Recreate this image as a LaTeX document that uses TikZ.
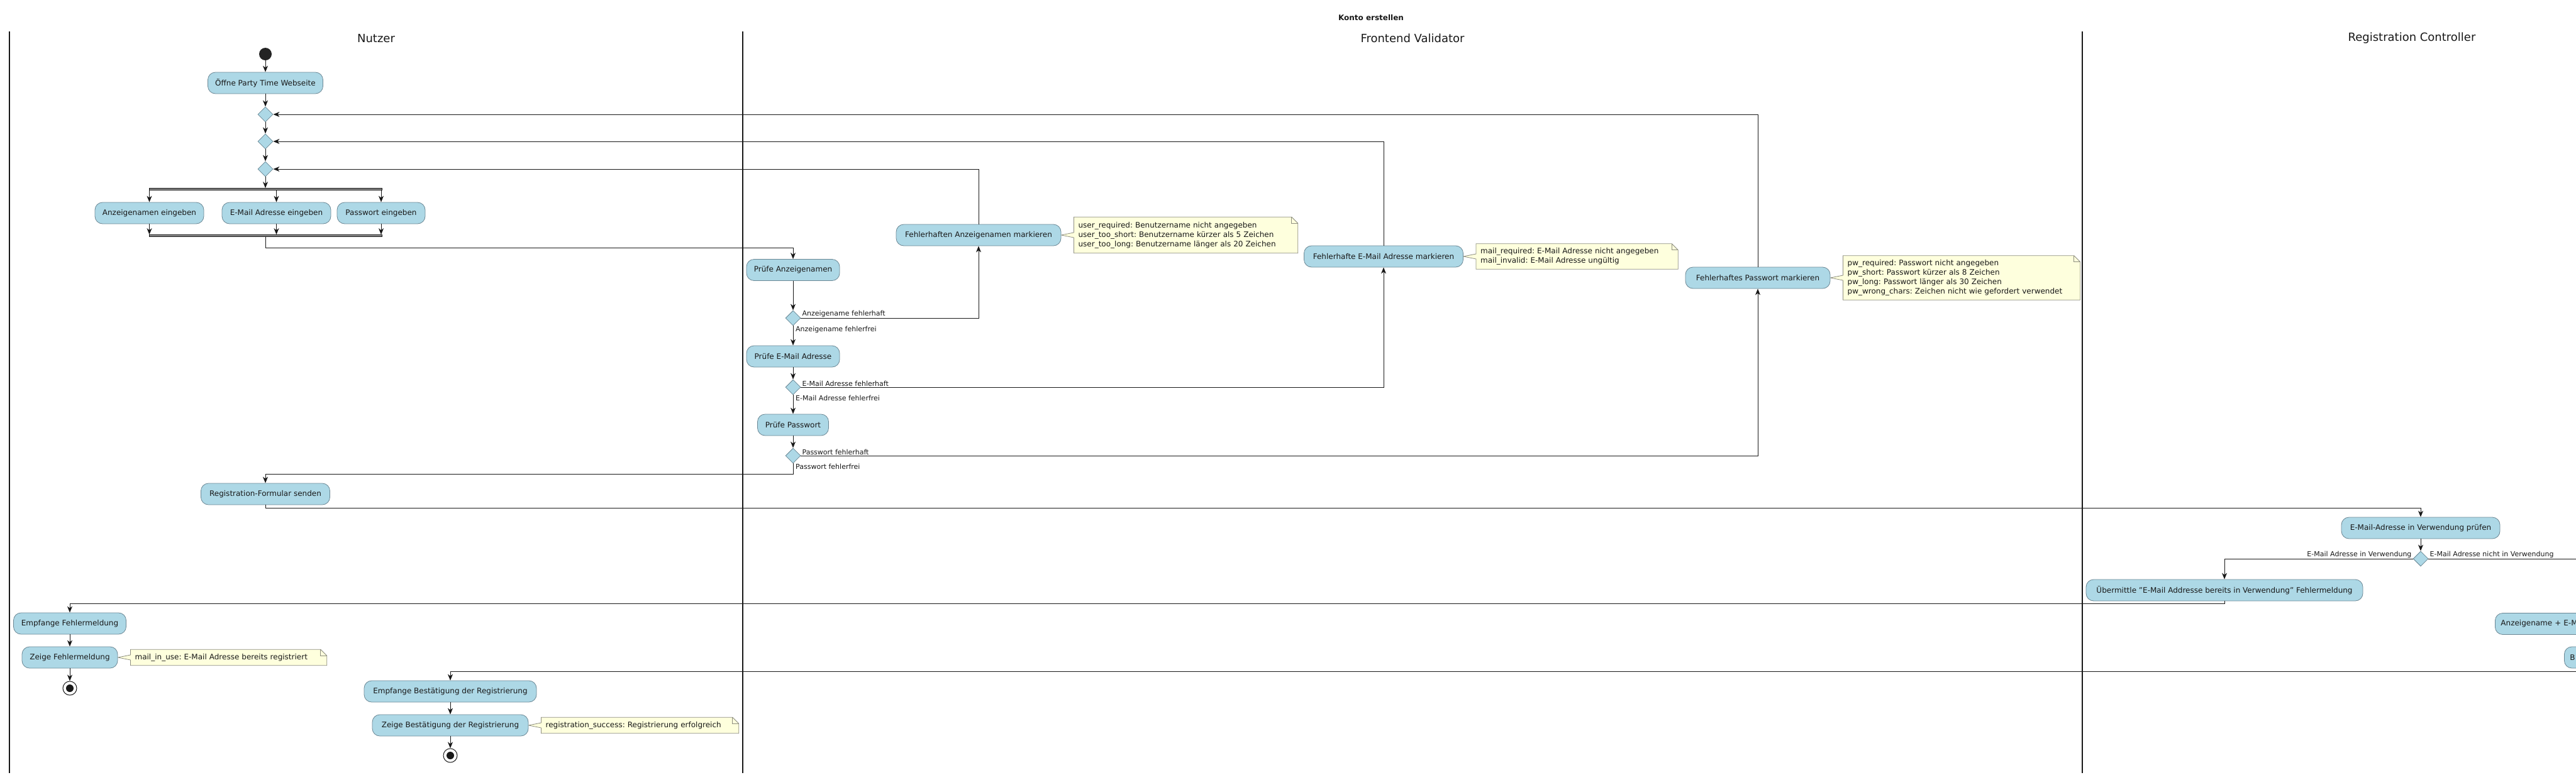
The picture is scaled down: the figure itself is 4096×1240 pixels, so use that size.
\documentclass[tikz,border=0pt]{standalone}
\usepackage{fontspec}
\setmainfont{DejaVu Sans}
\frenchspacing
\usetikzlibrary{shapes.geometric,arrows.meta,calc}
\definecolor{actfill}{HTML}{ADD8E6}
\definecolor{actborder}{HTML}{6B8794}
\definecolor{notefill}{HTML}{FEFFDD}
\definecolor{noteborder}{HTML}{8E8E80}
\definecolor{ink}{HTML}{181818}
\pgfdeclarelayer{bg}
\pgfsetlayers{bg,main}
\newcommand\notepath[1]{%
  \begin{pgfonlayer}{bg}
  \filldraw[noteline] (#1.north west) -- ([xshift=-10pt]#1.north east) -- ([yshift=-10pt]#1.north east)
    -- (#1.south east) -- (#1.south west) -- ([yshift=-4pt]#1.west) -- ([xshift=-20pt]#1.west)
    -- ([yshift=4pt]#1.west) -- cycle;
  \draw[noteline, fill=none] ([xshift=-10pt]#1.north east) |- ([yshift=-10pt]#1.north east);
  \end{pgfonlayer}}
\begin{document}
\begin{tikzpicture}[x=1pt,y=-1pt,
  act/.style={rectangle, rounded corners=12pt, draw=actborder, fill=actfill, line width=0.8pt,
    minimum height=34pt, inner xsep=9pt, inner ysep=0pt, font=\fontsize{12}{14}\selectfont, text=ink},
  dec/.style={diamond, draw=actborder, fill=actfill, line width=0.8pt, minimum width=24pt,
    minimum height=24pt, inner sep=0pt},
  flow/.style={draw=ink, line width=1pt, -{Stealth[length=10pt,width=8pt,inset=3pt]}},
  plain/.style={draw=ink, line width=1pt},
  lane/.style={draw=ink, line width=1.5pt},
  lbl/.style={font=\fontsize{11}{13}\selectfont, inner sep=1pt, text=ink},
  notebox/.style={align=left, inner xsep=7pt, inner ysep=4pt, font=\fontsize{12}{15}\selectfont,
    anchor=west, text=ink},
  noteline/.style={draw=noteborder, fill=notefill, line width=0.8pt},
  bar/.style={rectangle, fill=black!45, draw=ink, line width=0.6pt, minimum height=3pt,
    inner sep=0pt},
  startnode/.style={circle, fill=ink!95, minimum size=20pt, inner sep=0pt},
  endnode/.style={circle, draw=ink, line width=1pt, fill=white, minimum size=22pt, inner sep=0pt,
    path picture={\fill[ink] (path picture bounding box.center) circle (6pt);}},
  lanetitle/.style={font=\fontsize{18}{20}\selectfont, text=ink}
]
\clip (0,0) rectangle (4096,1240);
\begin{pgfonlayer}{bg}
\fill[white] (0,0) rectangle (4096,1240);
\end{pgfonlayer}

% title and lanes
\node[font=\bfseries\fontsize{12}{14}\selectfont, text=ink] (title) at (2180,28) {Konto erstellen};
\node[lanetitle] (ln1) at (598,61) {Nutzer};
\node[lanetitle] (ln2) at (2246,61) {Frontend Validator};
\node[lanetitle] (ln3) at (3835,61) {Registration Controller};
\draw[lane] (15,50) -- (15,1230);
\draw[lane] (1181,50) -- (1181,1230);
\draw[lane] (3311,50) -- (3311,1230);

% lane 1 nodes
\node[startnode] (start) at (422,86) {};
\node[act, minimum width=183pt] (open) at (422,132) {Öffne Party Time Webseite};
\node[dec] (d1) at (422,182) {};
\node[dec] (d2) at (422,225) {};
\node[dec] (d3) at (422,269) {};
\node[bar, minimum width=370pt] (fork) at (422,301) {};
\node[act, minimum width=173pt] (aname) at (237.5,339) {Anzeigenamen eingeben};
\node[act, minimum width=173pt] (amail) at (439.5,339) {E-Mail Adresse eingeben};
\node[act, minimum width=140pt] (apw) at (606,339) {Passwort eingeben};
\node[bar, minimum width=370pt] (join) at (422,375) {};
\node[act, minimum width=205pt] (send) at (422,786) {Registration-Formular senden};
\node[act, minimum width=179pt] (rerr) at (111,992) {Empfange Fehlermeldung};
\node[act, minimum width=152pt] (serr) at (111,1046) {Zeige Fehlermeldung};
\node[endnode] (end1) at (111,1095) {};
\node[act, minimum width=274pt] (rok) at (716,1100) {Empfange Bestätigung der Registrierung};
\node[act, minimum width=248pt] (sok) at (716,1154) {Zeige Bestätigung der Registrierung};
\node[endnode] (end2) at (716,1202) {};

% lane 2 nodes
\node[act, minimum width=148pt] (pname) at (1261,429.5) {Prüfe Anzeigenamen};
\node[dec] (dn) at (1261,506) {};
\node[act, minimum width=148pt] (pmail) at (1261,567) {Prüfe E-Mail Adresse};
\node[dec] (dm) at (1261,616) {};
\node[act, minimum width=113pt] (ppw) at (1261,676) {Prüfe Passwort};
\node[dec] (dp) at (1261,725) {};
\node[act, minimum width=262pt] (mname) at (1556,374) {Fehlerhaften Anzeigenamen markieren};
\node[act, minimum width=253pt] (mmail) at (2200,408) {Fehlerhafte E-Mail Adresse markieren};
\node[act, minimum width=230pt] (mpw) at (2795,442) {Fehlerhaftes Passwort markieren};

% lane 3 nodes
\node[act, minimum width=252pt] (chk) at (3849,840) {E-Mail-Adresse in Verwendung prüfen};
\node[dec] (dv) at (3849,889) {};
\node[act, minimum width=440pt] (uber) at (3537,939) {Übermittle "E-Mail Addresse bereits in Verwendung" Fehlermeldung};
\node[act, anchor=west, text width=220pt, align=left] (store) at (3967,992.5) {Anzeigename + E-M};
\node[act, anchor=west, text width=120pt, align=left] (bnode) at (4077,1046) {B};

% notes
\node[notebox, text width=342pt, minimum height=57pt] (nA) at ([xshift=20pt]mname.east)
  {user\_required: Benutzername nicht angegeben\\user\_too\_short: Benutzername kürzer als 5 Zeichen\\user\_too\_long: Benutzername länger als 20 Zeichen};
\notepath{nA}
\node[notebox, text width=307pt, minimum height=40pt] (nB) at ([xshift=20pt]mmail.east)
  {mail\_required: E-Mail Adresse nicht angegeben\\mail\_invalid: E-Mail Adresse ungültig};
\notepath{nB}
\node[notebox, text width=363pt, minimum height=70pt] (nC) at ([xshift=20pt]mpw.east)
  {pw\_required: Passwort nicht angegeben\\pw\_short: Passwort kürzer als 8 Zeichen\\pw\_long: Passwort länger als 30 Zeichen\\pw\_wrong\_chars: Zeichen nicht wie gefordert verwendet};
\notepath{nC}
\node[notebox, text width=298pt, minimum height=25pt] (nD) at ([xshift=20pt]serr.east)
  {mail\_in\_use: E-Mail Adresse bereits registriert};
\notepath{nD}
\node[notebox, text width=300pt, minimum height=25pt] (nE) at ([xshift=20pt]sok.east)
  {registration\_success: Registrierung erfolgreich};
\notepath{nE}

% coordinates
\coordinate (j1) at (422,394);
\coordinate (s1) at (1261,754);
\coordinate (s2) at (422,808);
\coordinate (u1) at (3537,960);
\coordinate (rr) at (4150,889);
\coordinate (rk) at (4150,1068);

% connectors lane 1
\draw[flow] (start) -- (open);
\draw[flow] (open) -- (d1);
\draw[flow] (d1) -- (d2);
\draw[flow] (d2) -- (d3);
\draw[flow] (d3) -- (fork);
\draw[flow] (aname.north |- fork.south) -- (aname.north);
\draw[flow] (amail.north |- fork.south) -- (amail.north);
\draw[flow] (apw.north |- fork.south) -- (apw.north);
\draw[flow] (aname.south) -- (aname.south |- join.north);
\draw[flow] (amail.south) -- (amail.south |- join.north);
\draw[flow] (apw.south) -- (apw.south |- join.north);
\draw[flow] (join.south) -- (j1) -| (pname.north);

% connectors lane 2
\draw[flow] (pname) -- (dn);
\draw[flow] (dn) -- (pmail);
\draw[flow] (pmail) -- (dm);
\draw[flow] (dm) -- (ppw);
\draw[flow] (ppw) -- (dp);
\draw[flow] (dn.east) -| (mname.south);
\draw[flow] (mname.north) |- (d3.east);
\draw[flow] (dm.east) -| (mmail.south);
\draw[flow] (mmail.north) |- (d2.east);
\draw[flow] (dp.east) -| (mpw.south);
\draw[flow] (mpw.north) |- (d1.east);
\draw[flow] (dp.south) -- (s1) -| (send.north);

% connectors lane 3
\draw[flow] (send.south) -- (s2) -| (chk.north);
\draw[flow] (chk) -- (dv);
\draw[flow] (dv.west) -| (uber.north);
\draw[plain] (dv.east) -- (rr);
\draw[flow] (uber.south) -- (u1) -| (rerr.north);
\draw[flow] (rerr) -- (serr);
\draw[flow] (serr) -- (end1);
\draw[flow] (rk) -| (rok.north);
\draw[flow] (rok) -- (sok);
\draw[flow] (sok) -- (end2);

% labels
\node[lbl, anchor=south west] (l1) at ([xshift=1pt]dn.east) {Anzeigename fehlerhaft};
\node[lbl, anchor=north west] (l2) at ([xshift=3pt]dn.south) {Anzeigename fehlerfrei};
\node[lbl, anchor=south west] (l3) at ([xshift=1pt]dm.east) {E-Mail Adresse fehlerhaft};
\node[lbl, anchor=north west] (l4) at ([xshift=3pt]dm.south) {E-Mail Adresse fehlerfrei};
\node[lbl, anchor=south west] (l5) at ([xshift=1pt]dp.east) {Passwort fehlerhaft};
\node[lbl, anchor=north west] (l6) at ([xshift=3pt]dp.south) {Passwort fehlerfrei};
\node[lbl, anchor=south east] (l7) at ([xshift=-1pt]dv.west) {E-Mail Adresse in Verwendung};
\node[lbl, anchor=south west] (l8) at ([xshift=1pt]dv.east) {E-Mail Adresse nicht in Verwendung};
\end{tikzpicture}
\end{document}
